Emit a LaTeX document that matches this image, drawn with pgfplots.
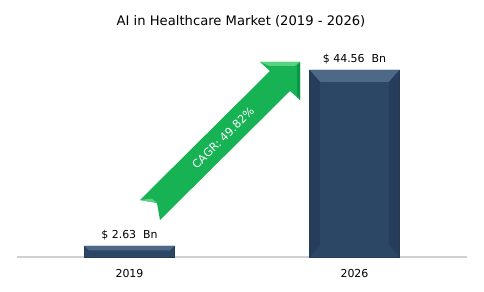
\documentclass[border=0pt]{standalone}
\usepackage{pgfplots}
\pgfplotsset{compat=1.18}
\usepackage{fontspec}
\setmainfont{DejaVu Sans}
\definecolor{barblue}{RGB}{44,70,102}
\definecolor{barlight}{RGB}{78,104,136}
\definecolor{bardark}{RGB}{36,58,86}
\definecolor{arrowgreen}{RGB}{22,178,84}
\definecolor{arrowlight}{RGB}{90,210,130}
\definecolor{arrowdark}{RGB}{10,150,70}
\definecolor{axisgray}{RGB}{208,208,208}
\begin{document}
\begin{tikzpicture}
\path[use as bounding box] (0,0) rectangle (484bp,292bp);
\node[font=\fontsize{13.2}{15}\selectfont, anchor=base] at (241bp,266bp) {AI in Healthcare Market (2019 - 2026)};
\begin{axis}[
  at={(17bp,35bp)}, anchor=south west,
  scale only axis, width=450bp, height=210bp,
  xmin=-0.5, xmax=1.5, ymin=0, ymax=50,
  axis x line=bottom, axis y line=none,
  x axis line style={-, draw=axisgray, line width=1.5bp},
  xtick={0,1}, xticklabels={2019,2026},
  major tick length=0pt,
  xticklabel style={font=\fontsize{11}{12}\selectfont, anchor=base, yshift=-20bp},
  ytick=\empty,
  clip=false,
]
\addplot[ybar, bar width=0.4, fill=barblue, draw=bardark, line width=0.5bp,
  point meta=explicit symbolic,
  nodes near coords, nodes near coords style={font=\fontsize{11}{12}\selectfont, text=black, anchor=base, yshift=7.5bp}]
  coordinates {(0,2.63) [\$ 2.63~~Bn] (1,44.56) [\$ 44.56~~Bn]};
% bevels on 2026 bar
\fill[barlight] (axis cs:0.8,44.56) -- (axis cs:1.2,44.56) -- (axis cs:1.153,41.7) -- (axis cs:0.847,41.7) -- cycle;
\fill[bardark!95!black, opacity=0.5] (axis cs:0.8,44.56) -- (axis cs:0.847,41.7) -- (axis cs:0.847,2.8) -- (axis cs:0.8,0) -- cycle;
\fill[bardark!95!black, opacity=0.5] (axis cs:1.2,44.56) -- (axis cs:1.153,41.7) -- (axis cs:1.153,2.8) -- (axis cs:1.2,0) -- cycle;
% bevel on 2019 bar
\fill[barlight] (axis cs:-0.2,2.63) -- (axis cs:0.2,2.63) -- (axis cs:0.18,1.6) -- (axis cs:-0.18,1.6) -- cycle;
% arrow
\fill[arrowgreen] (axis cs:0.0467,13.57) -- (axis cs:0.6244,44.29) -- (axis cs:0.58,46.43) -- (axis cs:0.7578,46.43)
   -- (axis cs:0.7578,37.38) -- (axis cs:0.7133,39.52) -- (axis cs:0.1356,8.81) -- (axis cs:0.122,12.86) -- cycle;
\fill[arrowlight] (axis cs:0.0467,13.57) -- (axis cs:0.122,12.86) -- (axis cs:0.10,13.9) -- cycle;
\fill[arrowlight] (axis cs:0.58,46.43) -- (axis cs:0.7578,46.43) -- (axis cs:0.735,45.5) -- (axis cs:0.62,45.5) -- cycle;
\fill[arrowdark] (axis cs:0.7578,46.43) -- (axis cs:0.7578,37.38) -- (axis cs:0.745,38.5) -- (axis cs:0.745,45.5) -- cycle;
\node[rotate=44.8, text=white, font=\fontsize{11.3}{12}\selectfont] at (axis cs:0.4156,28.33) {CAGR: 49.82\%};
\end{axis}
\end{tikzpicture}
\end{document}
